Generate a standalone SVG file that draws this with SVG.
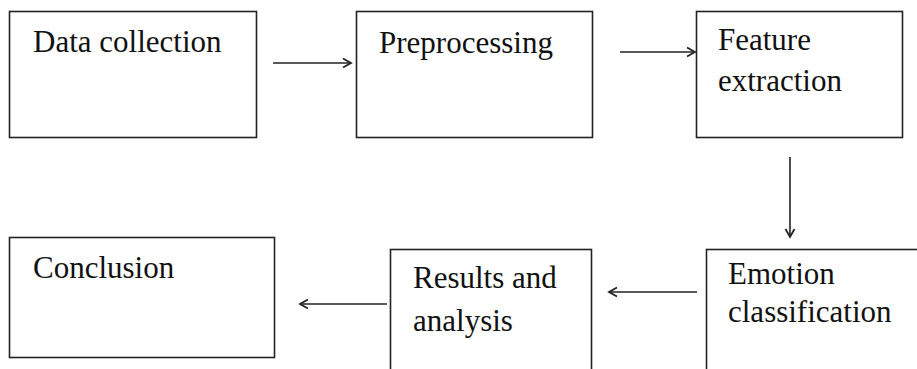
<svg xmlns="http://www.w3.org/2000/svg" width="917" height="369" viewBox="0 0 917 369">
<style>
.box{fill:#fff;stroke:#222;stroke-width:1.6}
.t{font-size:31px;fill:#111}
.c{stroke:#222;stroke-width:1.6;fill:none}
</style>
<defs>
<marker id="ah" markerWidth="12" markerHeight="12" refX="10" refY="6" orient="auto" markerUnits="userSpaceOnUse">
<path d="M2,1.5 L10,6 L2,10.5" fill="none" stroke="#222" stroke-width="1.8"/>
</marker>
</defs>
<rect width="917" height="369" fill="#fff"/>
<g font-family="'Liberation Serif', 'Times New Roman', serif">
<g id="n1"><rect class="box" x="9.5" y="11.5" width="247" height="126"/><text class="t" x="33" y="52">Data collection</text></g>
<g id="n2"><rect class="box" x="356.5" y="11.5" width="236" height="126"/><text class="t" x="379" y="53">Preprocessing</text></g>
<g id="n3"><rect class="box" x="696.5" y="11.5" width="206" height="126"/><text class="t" x="718" y="50">Feature</text><text class="t" x="718" y="91">extraction</text></g>
<g id="n4"><rect class="box" x="706.5" y="249.5" width="230" height="140"/><text class="t" x="728" y="284">Emotion</text><text class="t" x="728" y="322">classification</text></g>
<g id="n5"><rect class="box" x="390.5" y="249.5" width="201" height="140"/><text class="t" x="413" y="288">Results and</text><text class="t" x="413" y="331">analysis</text></g>
<g id="n6"><rect class="box" x="9.5" y="237.5" width="265" height="120"/><text class="t" x="33" y="278">Conclusion</text></g>
</g>
<g id="connectors">
<line class="c" x1="273" y1="63" x2="351" y2="63" marker-end="url(#ah)"/>
<line class="c" x1="620" y1="52" x2="695" y2="52" marker-end="url(#ah)"/>
<line class="c" x1="790" y1="157" x2="790" y2="237" marker-end="url(#ah)"/>
<line class="c" x1="697" y1="292" x2="609" y2="292" marker-end="url(#ah)"/>
<line class="c" x1="387" y1="304" x2="300" y2="304" marker-end="url(#ah)"/>
</g>
</svg>
